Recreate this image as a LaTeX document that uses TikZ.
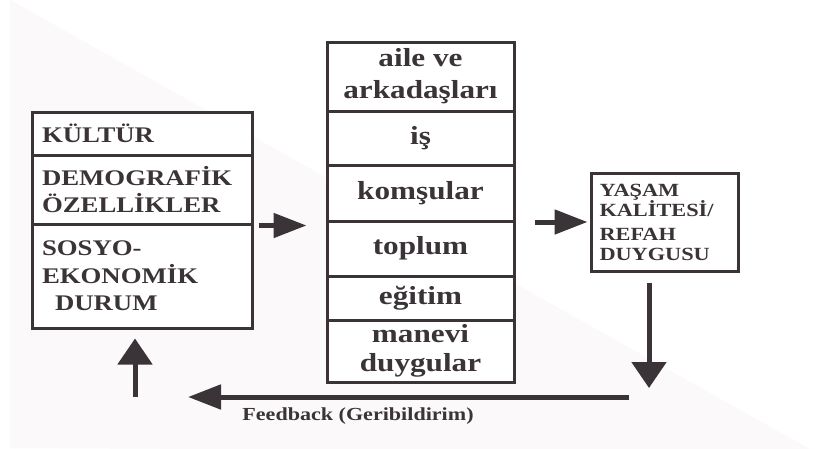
\documentclass[tikz,border=0pt]{standalone}
\usepackage{fontspec}
\setmainfont{Liberation Serif}
\newfontfamily\wfont{Liberation Serif}[FakeStretch=1.2]
\usetikzlibrary{arrows.meta}
\definecolor{ink}{HTML}{3A3438}
\definecolor{bgtint}{HTML}{FBF9F9}
\begin{document}
\begin{tikzpicture}[x=1pt,y=-1pt,
  cell/.style={draw=ink, fill=white, line width=3pt, inner sep=0pt, text=ink},
  lcell/.style={cell, minimum width=220pt, text width=200pt, align=left,
    font={\wfont\bfseries\fontsize{22.3pt}{27.5pt}\selectfont}},
  mcell/.style={cell, minimum width=187pt, align=center,
    font={\wfont\bfseries\fontsize{26pt}{30pt}\selectfont}},
  rcell/.style={cell, minimum width=147pt, minimum height=98pt, text width=130pt, align=left,
    font={\wfont\bfseries\fontsize{18.6pt}{20pt}\selectfont}},
  arr/.style={draw=ink, line width=5pt, -{Triangle[length=33pt,width=24pt]}},
  varr/.style={draw=ink, line width=5pt, -{Triangle[length=26pt,width=34pt]}},
  lbl/.style={text=ink, font={\wfont\bfseries\fontsize{18.4pt}{20pt}\selectfont}}
]
\useasboundingbox (0,0) rectangle (815,448);
\fill[white] (0,0) rectangle (815,448);
\fill[bgtint] (10,0) -- (815,452) -- (10,448) -- cycle;

% left box
\node[lcell, minimum height=43pt] (kultur) at (142,133.5) {KÜLTÜR};
\node[lcell, minimum height=69pt] (demo) at (142,189.5) {DEMOGRAFİK\\ÖZELLİKLER};
\node[lcell, minimum height=104pt] (sosyo) at (142,276) {SOSYO-\\EKONOMİK\\\hspace*{13pt}DURUM};

% middle box
\node[mcell, minimum height=69pt] (aile) at (420.5,76.5) {aile ve\\[2pt]arkadaşları};
\node[mcell, minimum height=54pt] (is) at (420.5,138) {iş};
\node[mcell, minimum height=56pt] (komsu) at (420.5,193) {komşular};
\node[mcell, minimum height=55pt] (toplum) at (420.5,248.5) {toplum};
\node[mcell, minimum height=44pt] (egitim) at (420.5,298) {eğitim};
\node[mcell, minimum height=62pt] (manevi) at (420.5,351) {manevi\\[-1pt]duygular};

% right box
\node[rcell] (ybox) at (664.5,222) {YAŞAM\\KALİTESİ/\\[4pt]REFAH\\DUYGUSU};

% loop coordinates
\coordinate (dtip) at (649,388);
\coordinate (fstart) at (629,397);
\coordinate (ftip) at (188,397);
\coordinate (ustart) at (135,397);

% arrows
\draw[arr] ([xshift=5pt]demo.south east) -- ([xshift=-19pt]demo.south east -| toplum.west);
\draw[arr] ([xshift=19pt]ybox.west -| komsu.east) -- ([xshift=-2pt]ybox.west);
\draw[varr] ([xshift=-15.5pt,yshift=-10pt]ybox.south) -- (dtip);
\draw[arr] (fstart) -- (ftip);
\draw[varr] (ustart) -- ([xshift=-7pt,yshift=-9pt]sosyo.south);

\node[lbl] (fb) at (358,416) {Feedback (Geribildirim)};
\end{tikzpicture}
\end{document}
